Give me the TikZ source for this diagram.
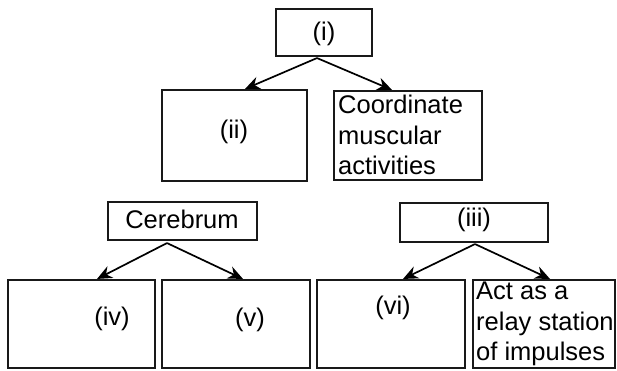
\documentclass[tikz,border=0pt]{standalone}
\usepackage{fontspec}
\setmainfont{Liberation Sans}
\usetikzlibrary{arrows.meta}
\begin{document}
\begin{tikzpicture}[x=1pt,y=-1pt,
  box/.style={draw=black!90, line width=2.1pt, inner sep=0pt, minimum width=#1},
  lbl/.style={inner sep=0pt, font=\fontsize{25.5}{30.5}\selectfont},
  conn/.style={line width=1.7pt, -{Stealth[length=15pt,width=13pt]}}]
\useasboundingbox (0,0) rectangle (617,370);
% boxes
\node[box=96pt, minimum height=47pt] (i) at (324,32.5) {};
\node[box=145pt, minimum height=91pt] (ii) at (234.5,135.5) {};
\node[box=148pt, minimum height=89pt] (coord) at (408,135.5) {};
\node[box=149pt, minimum height=38pt] (cer) at (182.5,221) {};
\node[box=148pt, minimum height=39pt] (iii) at (474,222.5) {};
\node[box=147pt, minimum height=88pt] (iv) at (81.5,324) {};
\node[box=148pt, minimum height=88pt] (v) at (236,324) {};
\node[box=148pt, minimum height=88pt] (vi) at (391,324) {};
\node[box=142pt, minimum height=88pt] (act) at (544,324) {};
% texts
\node[lbl] (ti) at (324,34) {(i)};
\node[lbl] (tii) at (234,132) {(ii)};
\node[lbl, align=left, anchor=north west] (tcoord) at (338,95) {Coordinate\\muscular\\activities};
\node[lbl] (tcer) at (182,219) {Cerebrum};
\node[lbl] (tiii) at (474,220) {(iii)};
\node[lbl] (tiv) at (112,319) {(iv)};
\node[lbl] (tv) at (250,320) {(v)};
\node[lbl] (tvi) at (393,308) {(vi)};
\node[lbl, align=left, anchor=north west] (tact) at (476,282) {Act as a\\relay station\\of impulses};
% connectors
\draw[conn] ([xshift=-7pt,yshift=-1pt]i.south) -- ([xshift=10.5pt]ii.north);
\draw[conn] ([xshift=-7pt,yshift=-1pt]i.south) -- ([xshift=-16pt]coord.north);
\draw[conn] ([xshift=-15.5pt,yshift=-2pt]cer.south) -- ([xshift=15.5pt]iv.north);
\draw[conn] ([xshift=-15.5pt,yshift=-2pt]cer.south) -- ([xshift=7pt]v.north);
\draw[conn] ([xshift=1pt,yshift=-1pt]iii.south) -- ([xshift=12pt]vi.north);
\draw[conn] ([xshift=1pt,yshift=-1pt]iii.south) -- ([xshift=6pt]act.north);
\end{tikzpicture}
\end{document}
